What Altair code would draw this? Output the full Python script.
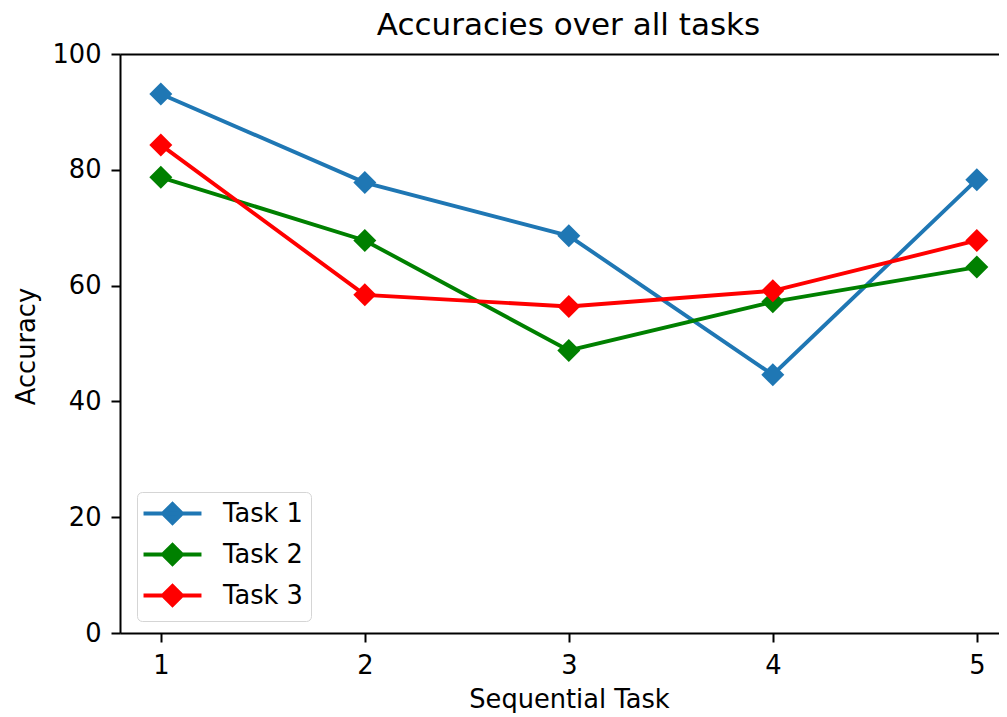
import altair as alt
import pandas as pd

tasks_x = [1, 2, 3, 4, 5]
task1 = [93.1, 77.8, 68.6, 44.6, 78.3]
task2 = [78.7, 67.8, 48.8, 57.2, 63.2]
task3 = [84.3, 58.4, 56.4, 59.1, 67.8]
series_names = ["Task 1", "Task 2", "Task 3"]
series_colors = ["#1f77b4", "#008000", "#ff0000"]

rows = []
for name, vals in zip(series_names, [task1, task2, task3]):
    for x, v in zip(tasks_x, vals):
        rows.append({"task": x, "acc": v, "series": name})
df = pd.DataFrame(rows)

FONT = "DejaVu Sans"
FS = 25.7
LW = 3.9
PLOT_W = 879

xscale = alt.Scale(domain=[0.8, 0.8 + PLOT_W / 204.0], nice=False, zero=False)
yscale = alt.Scale(domain=[0, 100], nice=False)
color = alt.Color(
    "series:N",
    scale=alt.Scale(domain=series_names, range=series_colors),
    legend=alt.Legend(
        title=None,
        orient="none",
        legendX=17,
        legendY=438,
        labelFont=FONT,
        labelFontSize=FS,
        labelColor="black",
        symbolType="M-2.52,0L2.52,0M-0.83,0L0,-0.83L0.83,0L0,0.83Z",
        symbolSize=529,
        symbolStrokeWidth=LW,
        symbolFillColor=alt.ExprRef(expr="scale('color', datum.value)"),
        symbolStrokeColor=alt.ExprRef(expr="scale('color', datum.value)"),
        symbolOpacity=1,
        symbolOffset=14,
        labelOffset=37,
        rowPadding=6,
        padding=8,
        strokeColor="#d5d5d5",
        fillColor="white",
        cornerRadius=5,
    ),
)

yaxis = alt.Axis(
    values=[0, 20, 40, 60, 80, 100],
    grid=False,
    labelFont=FONT,
    labelFontSize=FS,
    labelColor="black",
    labelPadding=10,
    labelBaseline="middle",
    tickSize=9,
    tickWidth=2,
    tickColor="black",
    domainColor="black",
    domainWidth=2,
    title="Accuracy",
    titleFont=FONT,
    titleFontSize=FS,
    titleFontWeight="normal",
    titleColor="black",
    titleX=-94,
    titleY=292,
    titleAngle=-90,
    titleAlign="center",
    titleBaseline="middle",
)

lines = alt.Chart(df).mark_line(strokeWidth=LW).encode(
    x=alt.X(
        "task:Q",
        scale=xscale,
        axis=alt.Axis(
            values=tasks_x,
            format="d",
            grid=False,
            labelFont=FONT,
            labelFontSize=FS,
            labelColor="black",
            labelBaseline="alphabetic",
            labelPadding=31,
            tickSize=9,
            tickWidth=2,
            tickColor="black",
            domainColor="black",
            domainWidth=2,
            title="Sequential Task",
            titleFont=FONT,
            titleFontSize=FS,
            titleFontWeight="normal",
            titleColor="black",
            titleX=449,
            titleY=74,
            titleAlign="center",
            titleBaseline="alphabetic",
        ),
    ),
    y=alt.Y("acc:Q", scale=yscale, axis=yaxis),
    color=color,
    order=alt.Order("task:Q"),
)

points = alt.Chart(df).mark_point(shape="diamond", filled=True, size=529, opacity=1).encode(
    x=alt.X(
        "task:Q",
        scale=xscale,
        axis=alt.Axis(
            orient="top",
            labels=False,
            ticks=False,
            grid=False,
            title=None,
            domainColor="black",
            domainWidth=2,
        ),
    ),
    y=alt.Y("acc:Q", scale=yscale, axis=yaxis),
    color=color,
)

chart = (
    alt.layer(lines, points)
    .resolve_axis(x="independent")
    .properties(
        width=PLOT_W,
        height=579,
        title=alt.TitleParams(
            "Accuracies over all tasks",
            font=FONT,
            fontSize=31,
            fontWeight="normal",
            color="black",
            anchor="middle",
            frame="group",
            baseline="alphabetic",
            offset=18,
            dx=9,
            dy=43,
        ),
        autosize=alt.AutoSizeParams(type="none"),
        padding={"left": 112, "top": 46, "right": 0, "bottom": 80},
    )
    .configure_view(stroke=None)
)

chart.save("out.html", embed_options={"renderer": "svg", "actions": False})
